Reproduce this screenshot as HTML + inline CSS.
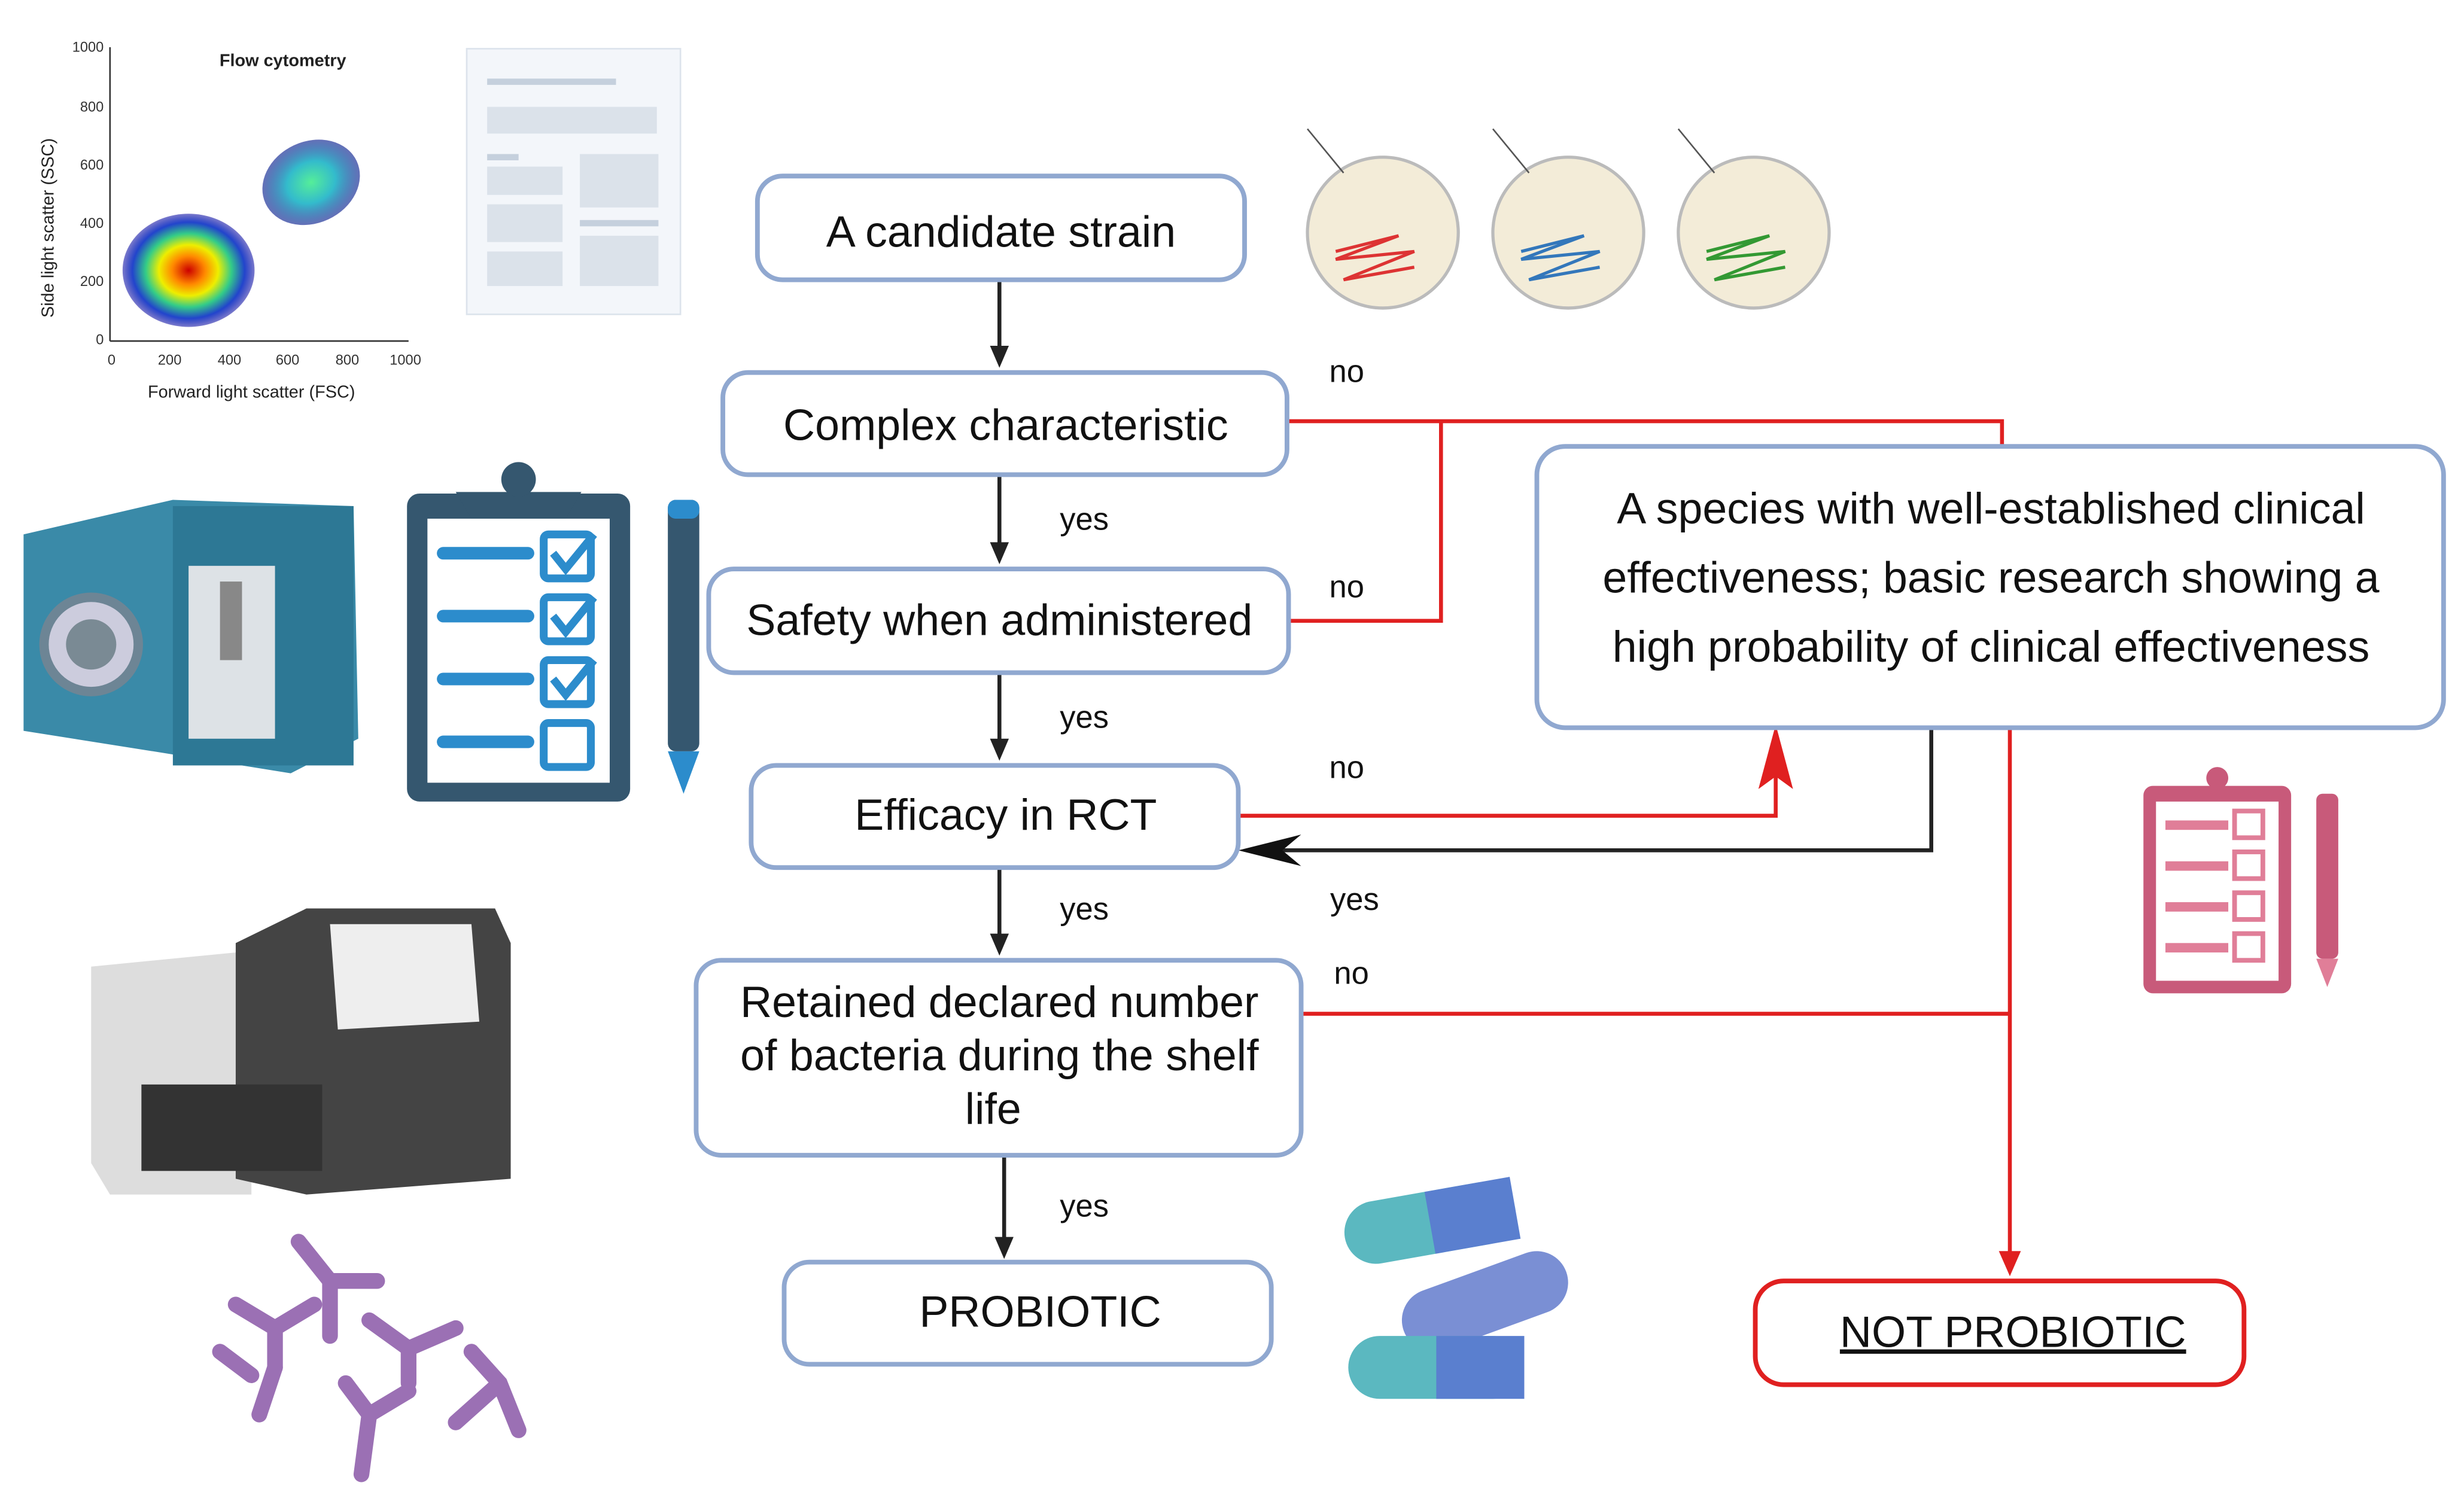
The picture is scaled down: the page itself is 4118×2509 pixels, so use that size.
<!DOCTYPE html>
<html><head><meta charset="utf-8"><style>
html,body{margin:0;padding:0;background:#fff;}
svg{display:block;}
text{font-family:"Liberation Sans",sans-serif;}
</style></head><body>
<svg width="4118" height="2509" viewBox="0 0 1568 955" preserveAspectRatio="none" xmlns="http://www.w3.org/2000/svg">
<defs>
<radialGradient id="fc1"><stop offset="0" stop-color="#c00"/><stop offset=".25" stop-color="#f80"/><stop offset=".45" stop-color="#ee0"/><stop offset=".65" stop-color="#3c8"/><stop offset=".85" stop-color="#24c"/><stop offset="1" stop-color="#22a" stop-opacity=".6"/></radialGradient>
<radialGradient id="fc2"><stop offset="0" stop-color="#5e9"/><stop offset=".5" stop-color="#3bc"/><stop offset="1" stop-color="#239" stop-opacity=".7"/></radialGradient>
</defs>

<!-- flow cytometry plot -->
<g>
<line x1="70" y1="30" x2="70" y2="217" stroke="#333" stroke-width="1"/>
<line x1="70" y1="217" x2="260" y2="217" stroke="#333" stroke-width="1"/>
<g font-size="9" fill="#333" text-anchor="end">
<text x="66" y="33">1000</text><text x="66" y="71">800</text><text x="66" y="108">600</text><text x="66" y="145">400</text><text x="66" y="182">200</text><text x="66" y="219">0</text></g>
<g font-size="9" fill="#333" text-anchor="middle">
<text x="71" y="232">0</text><text x="108" y="232">200</text><text x="146" y="232">400</text><text x="183" y="232">600</text><text x="221" y="232">800</text><text x="258" y="232">1000</text></g>
<text x="160" y="253" font-size="11" text-anchor="middle" fill="#222">Forward light scatter (FSC)</text>
<text x="34" y="145" font-size="11" text-anchor="middle" fill="#222" transform="rotate(-90 34 145)">Side light scatter (SSC)</text>
<text x="180" y="42" font-size="11" font-weight="bold" text-anchor="middle" fill="#222">Flow cytometry</text>
<ellipse cx="120" cy="172" rx="42" ry="36" fill="url(#fc1)"/>
<ellipse cx="198" cy="116" rx="32" ry="26" fill="url(#fc2)" transform="rotate(-25 198 116)"/>
</g>
<!-- document -->
<rect x="297" y="31" width="136" height="169" fill="#f3f6fa" stroke="#dce3ec"/>
<rect x="310" y="50" width="82" height="4" fill="#c5d0dd"/>
<rect x="310" y="68" width="108" height="17" fill="#dbe2ea"/>
<rect x="310" y="98" width="20" height="4" fill="#c5d0dd"/>
<rect x="310" y="106" width="48" height="18" fill="#dbe2ea"/>
<rect x="310" y="130" width="48" height="24" fill="#dbe2ea"/>
<rect x="310" y="160" width="48" height="22" fill="#dbe2ea"/>
<rect x="369" y="98" width="50" height="34" fill="#dbe2ea"/>
<rect x="369" y="140" width="50" height="4" fill="#c5d0dd"/>
<rect x="369" y="150" width="50" height="32" fill="#dbe2ea"/>

<!-- petri dishes -->
<g stroke-width="2">
<circle cx="880" cy="148" r="48" fill="#f3ecd8" stroke="#bbb"/>
<circle cx="998" cy="148" r="48" fill="#f3ecd8" stroke="#bbb"/>
<circle cx="1116" cy="148" r="48" fill="#f3ecd8" stroke="#bbb"/>
<path d="M850,160 l40,-10 l-40,15 l50,-5 l-45,18 l45,-8" fill="none" stroke="#d33"/>
<path d="M968,160 l40,-10 l-40,15 l50,-5 l-45,18 l45,-8" fill="none" stroke="#37b"/>
<path d="M1086,160 l40,-10 l-40,15 l50,-5 l-45,18 l45,-8" fill="none" stroke="#393"/>
<line x1="832" y1="82" x2="855" y2="110" stroke="#555" stroke-width="1"/>
<line x1="950" y1="82" x2="973" y2="110" stroke="#555" stroke-width="1"/>
<line x1="1068" y1="82" x2="1091" y2="110" stroke="#555" stroke-width="1"/>
</g>

<!-- left machine (blue) -->
<path d="M15,340 L110,318 L225,322 L228,470 L185,492 L110,480 L15,465 Z" fill="#3a8aa8"/>
<rect x="110" y="322" width="115" height="165" fill="#2d7895"/>
<rect x="120" y="360" width="55" height="110" fill="#dde2e6"/>
<rect x="140" y="370" width="14" height="50" fill="#888"/>
<circle cx="58" cy="410" r="30" fill="#ccd" stroke="#6d8595" stroke-width="6"/>
<circle cx="58" cy="410" r="16" fill="#7a8a94"/>
<!-- clipboard -->
<rect x="259" y="314" width="142" height="196" rx="8" fill="#35576f"/>
<rect x="272" y="330" width="116" height="168" fill="#fff"/>
<path d="M290,313 L370,313 L360,330 L300,330 Z" fill="#35576f"/>
<circle cx="330" cy="305" r="11" fill="#35576f"/>
<g fill="#2c8ccc">
<rect x="278" y="348" width="62" height="8" rx="4"/><rect x="278" y="388" width="62" height="8" rx="4"/><rect x="278" y="428" width="62" height="8" rx="4"/><rect x="278" y="468" width="62" height="8" rx="4"/></g>
<g fill="none" stroke="#2c8ccc" stroke-width="5">
<rect x="346" y="340" width="30" height="28" rx="3"/><rect x="346" y="380" width="30" height="28" rx="3"/><rect x="346" y="420" width="30" height="28" rx="3"/><rect x="346" y="460" width="30" height="28" rx="3"/>
<path d="M352,352 l8,10 l18,-22 M352,392 l8,10 l18,-22 M352,432 l8,10 l18,-22"/></g>
<rect x="425" y="318" width="20" height="160" rx="5" fill="#35576f"/>
<rect x="425" y="318" width="20" height="12" rx="5" fill="#2c8ccc"/>
<path d="M425,478 L445,478 L435,505 Z" fill="#2c8ccc"/>

<!-- printer machine -->
<path d="M58,615 L160,605 L160,760 L70,760 L58,740 Z" fill="#ddd"/>
<path d="M150,600 L195,578 L315,578 L325,600 L325,750 L195,760 L150,750 Z" fill="#444"/>
<path d="M210,588 L300,588 L305,650 L215,655 Z" fill="#eee"/>
<rect x="90" y="690" width="115" height="55" fill="#333"/>
<!-- Y molecules -->
<g stroke="#9b70b4" stroke-width="10" stroke-linecap="round" fill="none">
<path d="M150,830 L175,845 L200,830 M175,845 L175,870"/>
<path d="M190,790 L210,815 L240,815 M210,815 L210,850"/>
<path d="M235,840 L260,858 L290,845 M260,858 L260,880"/>
<path d="M220,880 L235,900 L260,885 M235,900 L230,938"/>
<path d="M300,860 L318,880 L330,910 M318,880 L290,905"/>
<path d="M140,860 L160,875 M175,870 L165,900"/>
</g>

<!-- pills -->
<g>
<rect x="855" y="758" width="110" height="40" rx="20" fill="#5bb8c0" transform="rotate(-10 910 778)"/>
<rect x="910" y="758" width="55" height="40" rx="0" fill="#5a7fcf" transform="rotate(-10 910 778)"/>
<rect x="890" y="808" width="110" height="40" rx="20" fill="#7a8fd4" transform="rotate(-20 945 828)"/>
<rect x="858" y="850" width="112" height="40" rx="20" fill="#5bb8c0"/>
<rect x="914" y="850" width="56" height="40" rx="0" fill="#5a7fcf"/>
</g>
<!-- pink clipboard -->
<rect x="1364" y="500" width="94" height="132" rx="6" fill="#c85a7a"/>
<rect x="1372" y="510" width="78" height="114" fill="#fff"/>
<circle cx="1411" cy="495" r="7" fill="#c85a7a"/>
<g fill="#e07e98"><rect x="1378" y="522" width="40" height="6"/><rect x="1378" y="548" width="40" height="6"/><rect x="1378" y="574" width="40" height="6"/><rect x="1378" y="600" width="40" height="6"/></g>
<g fill="none" stroke="#e07e98" stroke-width="3"><rect x="1422" y="516" width="18" height="17"/><rect x="1422" y="542" width="18" height="17"/><rect x="1422" y="568" width="18" height="17"/><rect x="1422" y="594" width="18" height="17"/></g>
<rect x="1474" y="505" width="14" height="105" rx="4" fill="#c85a7a"/>
<path d="M1474,610 L1488,610 L1481,628 Z" fill="#e07e98"/>

<!-- connectors -->
<g stroke="#222" stroke-width="2.5" fill="none">
<line x1="636" y1="178" x2="636" y2="222"/>
<line x1="636" y1="303" x2="636" y2="347"/>
<line x1="636" y1="429" x2="636" y2="472"/>
<line x1="636" y1="553" x2="636" y2="596"/>
<line x1="639" y1="736" x2="639" y2="789"/>
<path d="M1229,463 L1229,541 L800,541"/>
</g>
<g fill="#222">
<path d="M630,220 L642,220 L636,234 Z"/>
<path d="M630,345 L642,345 L636,359 Z"/>
<path d="M630,470 L642,470 L636,484 Z"/>
<path d="M630,594 L642,594 L636,608 Z"/>
<path d="M633,787 L645,787 L639,801 Z"/>
</g>
<path d="M788,541 L828,531 L816,541 L828,551 Z" fill="#111"/>
<g stroke="#e02020" stroke-width="2.5" fill="none">
<path d="M820,268 L1274,268 L1274,284"/>
<path d="M821,395 L917,395 L917,268"/>
<path d="M789,519 L1130,519 L1130,480"/>
<path d="M829,645 L1279,645"/>
<line x1="1279" y1="463" x2="1279" y2="798"/>
</g>
<path d="M1272,796 L1286,796 L1279,812 Z" fill="#e02020"/>
<path d="M1130,461 L1141,502 L1130,494 L1119,502 Z" fill="#e02020"/>

<!-- boxes -->
<g fill="#fff" stroke="#90a8d0" stroke-width="3">
<rect x="482" y="112" width="310" height="66" rx="16"/>
<rect x="460" y="237" width="359" height="65" rx="16"/>
<rect x="451" y="362" width="369" height="66" rx="16"/>
<rect x="478" y="487" width="310" height="65" rx="16"/>
<rect x="443" y="611" width="385" height="124" rx="16"/>
<rect x="499" y="803" width="310" height="65" rx="16"/>
<rect x="978" y="284" width="577" height="179" rx="18"/>
</g>
<rect x="1117" y="815" width="311" height="66" rx="18" fill="#fff" stroke="#e02020" stroke-width="3"/>

<g font-size="28" fill="#111" text-anchor="middle">
<text x="637" y="157">A candidate strain</text>
<text x="640" y="280">Complex characteristic</text>
<text x="636" y="404">Safety when administered</text>
<text x="640" y="528">Efficacy in RCT</text>
<text x="636" y="647">Retained declared number</text>
<text x="636" y="681">of bacteria during the shelf</text>
<text x="632" y="715">life</text>
<text x="662" y="844">PROBIOTIC</text>
<text x="1267" y="333">A species with well-established clinical</text>
<text x="1267" y="377">effectiveness; basic research showing a</text>
<text x="1267" y="421">high probability of clinical effectiveness</text>
<text x="1281" y="857" text-decoration="underline">NOT PROBIOTIC</text>
</g>
<g font-size="20" fill="#111" text-anchor="middle">
<text x="857" y="243">no</text>
<text x="690" y="337">yes</text>
<text x="857" y="380">no</text>
<text x="690" y="463">yes</text>
<text x="857" y="495">no</text>
<text x="690" y="585">yes</text>
<text x="862" y="579">yes</text>
<text x="860" y="626">no</text>
<text x="690" y="774">yes</text>
</g>
</svg>
</body></html>
